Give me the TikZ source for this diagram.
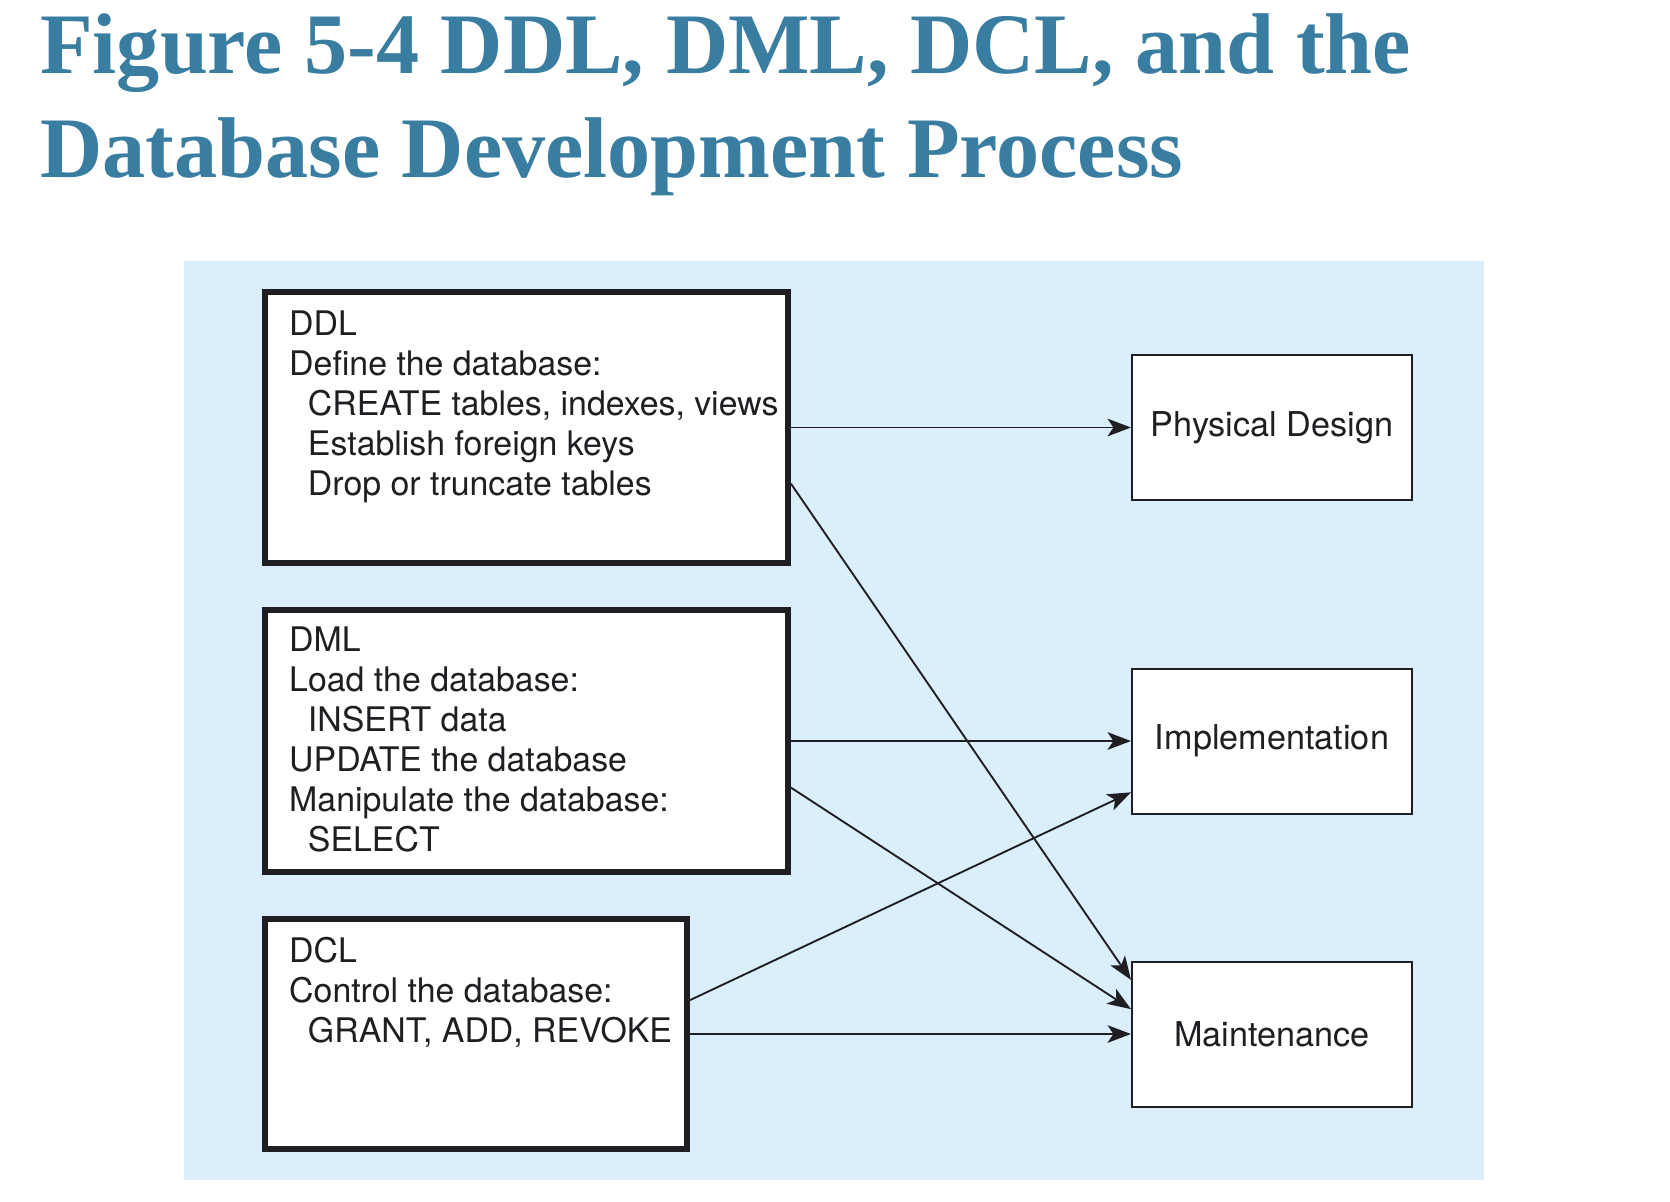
\documentclass[tikz,border=0pt]{standalone}
\usepackage{fontspec}
\setmainfont{Liberation Serif}
\setsansfont{TeX Gyre Heros}
\usetikzlibrary{arrows.meta}

\definecolor{titleblue}{RGB}{57,125,160}
\definecolor{panelblue}{RGB}{218,238,251}
\definecolor{ink}{RGB}{30,30,35}

\begin{document}
\begin{tikzpicture}[x=0.03cm, y=-0.03cm, >={Stealth[length=20pt, width=15pt, inset=5pt]}]
            \tikzstyle{heading} = [anchor=base west, inner sep=0pt, color=titleblue, font=\fontsize{73.6}{88}\selectfont\bfseries]
            \tikzstyle{langbox} = [rectangle, draw=ink, line width=4.8pt, fill=white, minimum width=15.7cm]
            \tikzstyle{stagebox} = [rectangle, draw=ink, line width=1.7pt, fill=white, minimum width=8.4cm, minimum height=4.35cm, text=ink, font=\sffamily\fontsize{29.2}{34}\selectfont]
            \tikzstyle{boxtext} = [anchor=north west, inner sep=0pt, align=left, text=ink, font=\sffamily\fontsize{28.9}{34}\selectfont]
            \tikzstyle{flow} = [->, line width=1.6pt, draw=ink]

            \useasboundingbox (0, 0) rectangle (1670, 1202);
            \fill[panelblue] (184, 261) rectangle (1484, 1180);

            \node[heading] (title1) at (40, 73) {Figure 5-4 DDL, DML, DCL, and the};
            \node[heading] (title2) at (40, 177) {Database Development Process};

            \node[langbox, minimum height=8.14cm] (ddl) at (526.5, 427.5) {};
            \node[langbox, minimum height=7.87cm] (dml) at (526.5, 741) {};
            \node[langbox, minimum width=12.67cm, minimum height=6.91cm] (dcl) at (476, 1034) {};

            \node[boxtext] (ddltext) at (289, 311) {DDL\\Define the database:\\\hspace*{16pt}CREATE tables, indexes, views\\\hspace*{16pt}Establish foreign keys\\\hspace*{16pt}Drop or truncate tables};
            \node[boxtext] (dmltext) at (289, 627) {DML\\Load the database:\\\hspace*{16pt}INSERT data\\UPDATE the database\\Manipulate the database:\\\hspace*{16pt}SELECT};
            \node[boxtext] (dcltext) at (289, 937) {DCL\\Control the database:\\\hspace*{16pt}GRANT, ADD, REVOKE};

            \node[stagebox] (phys) at (1272, 427.5) {Physical Design};
            \node[stagebox] (impl) at (1272, 741) {Implementation};
            \node[stagebox] (maint) at (1272, 1034) {Maintenance};

            \draw [flow] (ddl.east) -- (phys.west);
            \draw [flow] (ddl.-12.3) -- (maint.159.8);
            \draw [flow] (dml.east) -- (impl.west);
            \draw [flow] (dml.-10.3) -- (maint.170);
            \draw [flow] (dcl.9.5) -- (impl.-160.5);
            \draw [flow] (dcl.east) -- (maint.west);
\end{tikzpicture}
\end{document}
